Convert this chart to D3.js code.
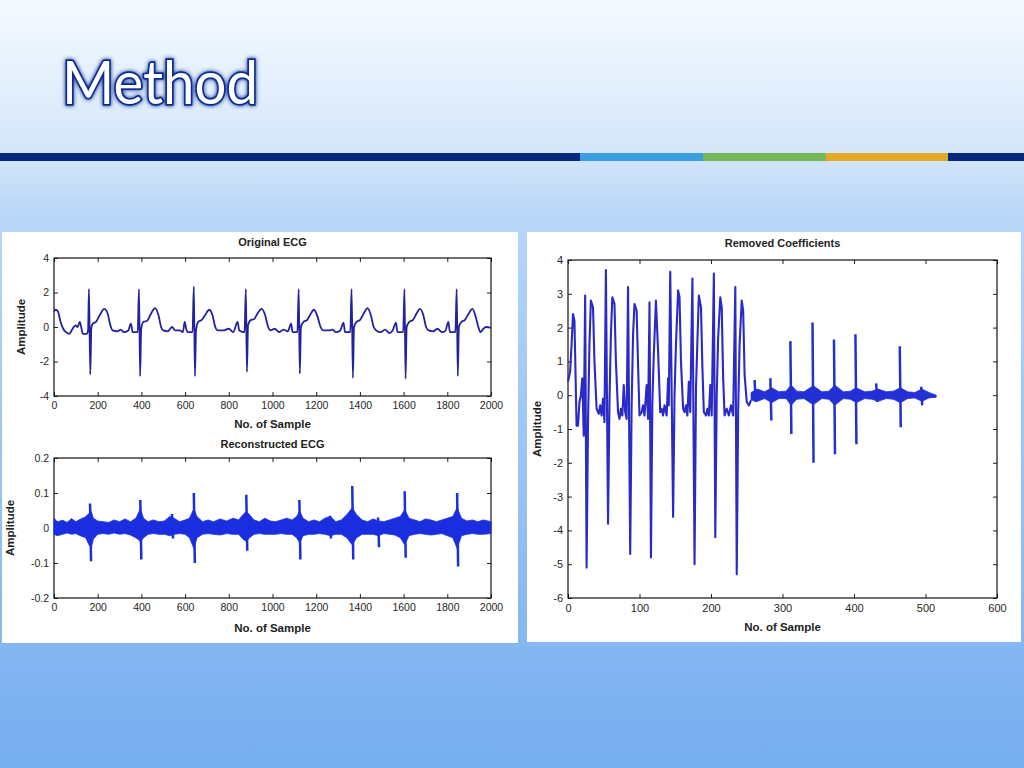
<!DOCTYPE html>
<html>
<head>
<meta charset="utf-8">
<script src="https://cdn.jsdelivr.net/npm/d3@7"></script>
<style>
  body { margin: 0; padding: 0; overflow: hidden; }
  svg { display: block; }
  .tick text { font-family: "Liberation Sans", Arial, sans-serif; fill: #262626; }
  .lbl { font-family: "Liberation Sans", Arial, sans-serif; font-weight: bold; fill: #222; }
</style>
</head>
<body>
<div id="chart"></div>
<script>
var width = 1024, height = 768;

// ---- Original ECG (sample, amplitude)
var origSample = [0,8,18,30,42,55,70,85,98,108,118,126,132,150,156,160,166,171,178,192,210,230,245,258,268,290,305,320,340,352,360,383,389,394,399,410,425,445,462,478,490,500,520,540,555,575,590,598,605,612,634,640,645,650,660,675,692,710,725,738,750,775,800,820,840,848,872,878,883,888,900,915,932,950,966,980,992,1010,1030,1050,1070,1085,1092,1114,1120,1125,1130,1142,1158,1172,1190,1206,1220,1232,1255,1275,1290,1310,1325,1332,1356,1362,1368,1373,1385,1400,1418,1435,1450,1463,1475,1495,1515,1535,1550,1565,1572,1598,1604,1609,1614,1626,1642,1658,1675,1690,1703,1715,1735,1755,1775,1790,1805,1812,1837,1843,1848,1853,1865,1880,1897,1915,1930,1942,1952,1965,1978,2000];
var origValue  = [0.9,1.0,0.9,0.3,-0.1,-0.3,-0.4,-0.1,0.1,0.0,0.3,-0.1,-0.4,-0.4,-0.2,2.2,-2.75,0.0,0.2,0.3,0.7,1.05,0.8,0.1,-0.2,-0.25,-0.15,-0.3,-0.2,0.2,-0.3,-0.3,2.2,-2.85,-0.1,0.3,0.35,0.8,1.1,0.7,0.0,-0.2,-0.25,0.0,-0.2,-0.2,-0.3,0.3,-0.1,-0.3,-0.3,2.35,-2.85,-0.2,0.3,0.4,0.7,1.0,0.7,0.0,-0.2,-0.2,-0.1,-0.3,0.3,-0.2,-0.3,2.2,-2.6,0.1,0.4,0.45,0.8,1.05,0.7,0.0,-0.2,-0.1,-0.3,-0.15,-0.25,0.2,-0.3,-0.3,2.2,-2.7,0.0,0.3,0.4,0.7,1.0,0.6,0.0,-0.2,-0.2,-0.15,-0.3,-0.2,0.25,-0.3,-0.3,2.2,-2.95,0.0,0.3,0.4,0.8,1.1,0.7,0.0,-0.2,-0.3,-0.15,-0.35,-0.2,0.25,-0.3,-0.3,2.2,-3.0,0.0,0.3,0.4,0.75,1.05,0.7,0.0,-0.2,-0.25,-0.1,-0.3,-0.25,0.3,-0.3,-0.3,2.2,-2.85,0.0,0.3,0.4,0.75,1.05,0.6,0.0,-0.3,-0.1,0.0,-0.05];

// ---- Reconstructed ECG: noise band envelope + beat spikes
var recSample = [0,15,40,60,80,100,120,145,160,170,180,200,225,250,275,300,325,350,375,395,410,430,455,480,505,530,550,575,600,620,640,655,680,705,730,760,790,820,845,865,880,895,915,940,965,990,1015,1040,1065,1090,1110,1125,1140,1165,1190,1215,1240,1265,1290,1315,1340,1365,1385,1410,1435,1460,1485,1510,1535,1560,1585,1605,1625,1650,1675,1700,1725,1750,1775,1800,1825,1845,1865,1890,1915,1940,1965,2000];
var recUpper  = [0.028,0.018,0.022,0.016,0.027,0.018,0.025,0.032,0.042,0.048,0.028,0.02,0.018,0.016,0.023,0.018,0.026,0.018,0.028,0.055,0.028,0.018,0.023,0.018,0.02,0.033,0.028,0.018,0.023,0.028,0.055,0.032,0.018,0.023,0.018,0.026,0.02,0.028,0.023,0.038,0.048,0.038,0.023,0.018,0.028,0.02,0.018,0.023,0.028,0.023,0.033,0.048,0.028,0.018,0.023,0.018,0.028,0.033,0.018,0.023,0.038,0.058,0.038,0.023,0.018,0.026,0.02,0.018,0.023,0.028,0.033,0.052,0.028,0.023,0.018,0.026,0.023,0.018,0.023,0.028,0.033,0.058,0.028,0.02,0.023,0.018,0.023,0.018];
var recLower  = [-0.018,-0.022,-0.018,-0.014,-0.018,-0.016,-0.022,-0.028,-0.048,-0.058,-0.032,-0.018,-0.016,-0.018,-0.014,-0.018,-0.016,-0.02,-0.028,-0.038,-0.028,-0.018,-0.016,-0.018,-0.018,-0.022,-0.018,-0.016,-0.018,-0.028,-0.058,-0.028,-0.018,-0.016,-0.018,-0.02,-0.016,-0.018,-0.018,-0.032,-0.038,-0.028,-0.018,-0.016,-0.018,-0.018,-0.018,-0.016,-0.018,-0.018,-0.028,-0.042,-0.022,-0.018,-0.018,-0.016,-0.018,-0.022,-0.018,-0.018,-0.028,-0.048,-0.028,-0.018,-0.018,-0.018,-0.022,-0.016,-0.018,-0.02,-0.028,-0.048,-0.022,-0.018,-0.016,-0.018,-0.02,-0.018,-0.016,-0.022,-0.028,-0.058,-0.022,-0.018,-0.016,-0.018,-0.018,-0.016];
var recSpikeSample = [165,395,640,880,1123,1365,1605,1845,540,1263,1483];
var recSpikeTop    = [0.07,0.08,0.1,0.095,0.08,0.12,0.105,0.1,0.04,0.035,0.03];
var recSpikeBottom = [-0.095,-0.09,-0.1,-0.065,-0.09,-0.09,-0.085,-0.11,-0.03,-0.03,-0.055];

// ---- Removed coefficients: first part as a line, then noise band + spikes
var rcSample = [0,3,5,7,9,10,12,14,16,18,20,22,24,26,28,30,32,35,37,40,43,45,47,49,51,53,56,58,60,62,65,67,70,72,74,76,78,80,82,84,87,89,91,93,96,98,100,103,105,107,110,112,114,116,118,120,123,126,129,131,133,135,138,140,141,143,147,149,151,154,156,158,161,163,165,167,169,171,174,177,179,181,183,186,188,190,193,195,197,199,201,204,206,208,210,213,215,217,219,222,225,228,231,234,236,238,240,243,245,247,250,253,256];
var rcValue  = [0.4,0.7,1.5,2.4,2.2,1.2,-0.9,-0.9,-0.2,0.0,0.5,-1.2,2.95,-5.1,-0.8,1.5,2.8,2.6,1.0,-0.4,-0.55,-0.3,-0.6,-0.1,-0.8,3.7,-3.8,-0.2,1.8,2.9,2.7,1.0,-0.5,-0.7,-0.4,-0.6,0.3,-0.5,-0.7,3.2,-4.7,-0.3,1.8,2.7,2.5,0.9,-0.6,-0.5,-0.3,-0.6,0.3,-0.7,2.75,-4.8,-0.2,1.2,2.8,1.3,-0.5,-0.4,-0.6,-0.3,-0.6,0.5,-0.3,3.65,-3.6,0.0,1.5,3.1,2.9,1.0,-0.4,-0.5,-0.3,-0.6,0.4,-0.5,3.45,-5.0,0.2,1.6,2.95,2.6,0.8,-0.5,-0.6,-0.4,-0.6,0.3,-0.6,3.6,-4.2,0.0,1.7,2.9,2.6,0.5,-0.6,-0.4,-0.6,-0.3,-0.6,3.2,-5.3,-0.4,1.5,2.8,2.5,0.6,-0.2,-0.3,-0.15];
var rcBandSample = [256,265,275,285,295,305,312,320,330,343,355,365,373,385,395,403,415,425,434,445,455,465,475,485,495,505,515];
var rcBandUpper  = [0.08,0.18,0.1,0.22,0.1,0.12,0.3,0.12,0.1,0.28,0.1,0.12,0.3,0.1,0.12,0.22,0.1,0.12,0.18,0.1,0.12,0.22,0.1,0.08,0.18,0.08,0.0];
var rcBandLower  = [-0.14,-0.18,-0.1,-0.22,-0.1,-0.1,-0.3,-0.12,-0.1,-0.28,-0.1,-0.12,-0.3,-0.1,-0.12,-0.22,-0.1,-0.12,-0.18,-0.1,-0.12,-0.22,-0.1,-0.08,-0.18,-0.08,-0.06];
var rcSpikeSample = [261,283,311,342,372,402,431,464,494];
var rcSpikeTop    = [0.45,0.5,1.6,2.15,1.65,1.8,0.35,1.45,0.25];
var rcSpikeBottom = [-0.2,-0.75,-1.15,-2.0,-1.75,-1.45,-0.2,-0.95,-0.3];

// ---- ticks
var ecgXTicks = [0,200,400,600,800,1000,1200,1400,1600,1800,2000];
var origYTicks = [-4,-2,0,2,4];
var recYTicks = [-0.2,-0.1,0,0.1,0.2];
var rcXTicks = [0,100,200,300,400,500,600];
var rcYTicks = [-6,-5,-4,-3,-2,-1,0,1,2,3,4];

var svg = d3.select("#chart").append("svg")
  .attr("width", width)
  .attr("height", height);

var defs = svg.append("defs");
var bg = defs.append("linearGradient").attr("id", "bg")
  .attr("x1", 0).attr("y1", 0).attr("x2", 0).attr("y2", 1);
bg.append("stop").attr("offset", "0").attr("stop-color", "#f5faff");
bg.append("stop").attr("offset", "0.2").attr("stop-color", "#d4e6fa");
bg.append("stop").attr("offset", "0.28").attr("stop-color", "#b8d6f8");
bg.append("stop").attr("offset", "1").attr("stop-color", "#76aef0");

var glow = defs.append("filter").attr("id", "glow")
  .attr("x", "-10%").attr("y", "-20%").attr("width", "120%").attr("height", "140%");
glow.append("feGaussianBlur").attr("in", "SourceAlpha").attr("stdDeviation", 2).attr("result", "b");
glow.append("feFlood").attr("flood-color", "#0a2a8c");
glow.append("feComposite").attr("in2", "b").attr("operator", "in").attr("result", "s");
var mrg = glow.append("feMerge");
mrg.append("feMergeNode").attr("in", "s");
mrg.append("feMergeNode").attr("in", "SourceGraphic");

svg.append("rect").attr("width", width).attr("height", height).attr("fill", "url(#bg)");

// header bar
var barStops = [0, 580, 703, 826, 948, 1024];
var barColors = ["#06287e", "#3c9ee2", "#76b75c", "#e3a826", "#06287e"];
barColors.forEach(function(c, i) {
  svg.append("rect")
    .attr("x", barStops[i]).attr("y", 153)
    .attr("width", barStops[i + 1] - barStops[i]).attr("height", 8)
    .attr("fill", c);
});

svg.append("text")
  .attr("x", 62).attr("y", 104)
  .attr("textLength", 196).attr("lengthAdjust", "spacingAndGlyphs")
  .attr("filter", "url(#glow)")
  .style("font-family", "Lato, 'Open Sans', sans-serif")
  .style("font-size", "60px")
  .style("fill", "#fff")
  .style("stroke", "#0b2c90")
  .style("stroke-width", 3.5)
  .style("paint-order", "stroke")
  .text("Method");

// white panels
svg.append("rect").attr("x", 2).attr("y", 232).attr("width", 516).attr("height", 411).attr("fill", "#fff");
svg.append("rect").attr("x", 527).attr("y", 232).attr("width", 494).attr("height", 410).attr("fill", "#fff");

function makePlot(o) {
  var x = d3.scaleLinear().domain(o.xd).range([o.left, o.right]);
  var y = d3.scaleLinear().domain(o.yd).range([o.bottom, o.top]);
  var g = svg.append("g");

  g.append("g").attr("transform", "translate(0," + o.bottom + ")")
    .call(d3.axisBottom(x).tickValues(o.xt).tickSizeInner(-4).tickSizeOuter(0).tickPadding(6).tickFormat(d3.format("d")))
    .call(function(a) { a.selectAll("text").style("font-size", o.fs + "px"); });
  g.append("g").attr("transform", "translate(0," + o.top + ")")
    .call(d3.axisTop(x).tickValues(o.xt).tickSizeInner(-4).tickSizeOuter(0).tickFormat(""));
  g.append("g").attr("transform", "translate(" + o.left + ",0)")
    .call(d3.axisLeft(y).tickValues(o.yt).tickSizeInner(-4).tickSizeOuter(0).tickPadding(5).tickFormat(function(d) { return String(d); }))
    .call(function(a) { a.selectAll("text").style("font-size", o.fs + "px"); });
  g.append("g").attr("transform", "translate(" + o.right + ",0)")
    .call(d3.axisRight(y).tickValues(o.yt).tickSizeInner(-4).tickSizeOuter(0).tickFormat(""));
  g.selectAll(".domain").remove();
  g.selectAll(".tick line").attr("stroke", "#222");

  g.append("rect")
    .attr("x", o.left).attr("y", o.top)
    .attr("width", o.right - o.left).attr("height", o.bottom - o.top)
    .attr("fill", "none").attr("stroke", "#111").attr("stroke-width", 1.2);

  g.append("text").attr("class", "lbl")
    .attr("x", (o.left + o.right) / 2).attr("y", o.titleY)
    .attr("text-anchor", "middle").style("font-size", "11px").text(o.title);
  g.append("text").attr("class", "lbl")
    .attr("x", (o.left + o.right) / 2).attr("y", o.xlabY)
    .attr("text-anchor", "middle").style("font-size", "11.5px").text("No. of Sample");
  g.append("text").attr("class", "lbl")
    .attr("transform", "translate(" + o.ylabX + "," + ((o.top + o.bottom) / 2) + ") rotate(-90)")
    .attr("text-anchor", "middle").style("font-size", "11.5px").text("Amplitude");

  return { x: x, y: y, g: g };
}

function drawLine(p, xs, ys, color, w, curve) {
  p.g.append("path")
    .datum(d3.zip(xs, ys))
    .attr("fill", "none")
    .attr("stroke", color)
    .attr("stroke-width", w)
    .attr("stroke-linejoin", "round")
    .attr("d", d3.line().curve(curve || d3.curveLinear)
      .x(function(d) { return p.x(d[0]); }).y(function(d) { return p.y(d[1]); }));
}

function drawBand(p, xs, hi, lo, color) {
  p.g.append("path")
    .datum(d3.zip(xs, hi, lo))
    .attr("fill", color)
    .attr("stroke", color)
    .attr("stroke-width", 0.8)
    .attr("d", d3.area()
      .x(function(d) { return p.x(d[0]); })
      .y0(function(d) { return p.y(d[2]); })
      .y1(function(d) { return p.y(d[1]); }));
}

function drawSpikes(p, xs, top, bottom, color, w) {
  p.g.selectAll(null)
    .data(d3.zip(xs, top, bottom))
    .enter().append("path")
    .attr("fill", "none")
    .attr("stroke", color)
    .attr("stroke-width", w)
    .attr("d", function(d) {
      return "M" + p.x(d[0]) + "," + p.y(d[1]) + "L" + (p.x(d[0]) + 1) + "," + p.y(d[2]);
    });
}

var p1 = makePlot({
  left: 54, right: 491, top: 258, bottom: 396,
  xd: [0, 2000], yd: [-4, 4], xt: ecgXTicks, yt: origYTicks, fs: 10.5,
  title: "Original ECG", titleY: 246, xlabY: 428, ylabX: 25
});
drawLine(p1, origSample, origValue, "#22229e", 1.8, d3.curveMonotoneX);

var p2 = makePlot({
  left: 54, right: 491, top: 458, bottom: 598,
  xd: [0, 2000], yd: [-0.2, 0.2], xt: ecgXTicks, yt: recYTicks, fs: 10.5,
  title: "Reconstructed ECG", titleY: 448, xlabY: 632, ylabX: 14
});
drawBand(p2, recSample, recUpper, recLower, "#1a2ee0");
drawSpikes(p2, recSpikeSample, recSpikeTop, recSpikeBottom, "#1a2ee0", 2.5);

var p3 = makePlot({
  left: 568, right: 997, top: 260, bottom: 598,
  xd: [0, 600], yd: [-6, 4], xt: rcXTicks, yt: rcYTicks, fs: 11,
  title: "Removed Coefficients", titleY: 247, xlabY: 631, ylabX: 541
});
drawLine(p3, rcSample, rcValue, "#2a2ac8", 2.1);
drawBand(p3, rcBandSample, rcBandUpper, rcBandLower, "#2330d8");
drawSpikes(p3, rcSpikeSample, rcSpikeTop, rcSpikeBottom, "#2330d0", 2.5);
</script>
</body>
</html>
